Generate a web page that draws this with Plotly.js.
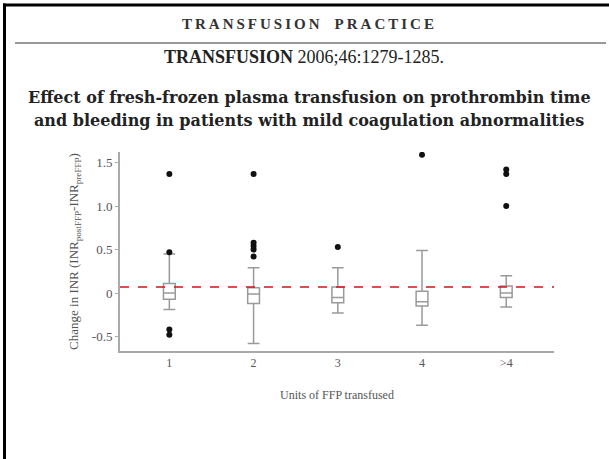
<!DOCTYPE html>
<html>
<head>
<meta charset="utf-8">
<script src="https://cdn.plot.ly/plotly-3.0.1.min.js"></script>
<style>html,body{margin:0;padding:0;background:#fff;}#chart{width:609px;height:459px;}</style>
</head>
<body>
<div id="chart"></div>
<script>
// Categories (units of FFP transfused)
const categories = ["1", "2", "3", "4", ">4"];
// Box statistics per category (change in INR)
const q1Values     = [-0.07, -0.12, -0.11, -0.15, -0.05];
const medianValues = [0.00, -0.01, -0.05, -0.10, 0.00];
const q3Values     = [0.11, 0.06, 0.07, 0.02, 0.08];
const lowerWhisker = [-0.19, -0.58, -0.23, -0.37, -0.16];
const upperWhisker = [0.45, 0.29, 0.29, 0.49, 0.20];
// Outliers
const outlierCats   = ["1", "1", "1", "1", "2", "2", "2", "2", "2", "3", "4", ">4", ">4", ">4"];
const outlierValues = [1.37, 0.47, -0.42, -0.48, 1.37, 0.58, 0.54, 0.50, 0.42, 0.53, 1.59, 1.42, 1.37, 1.00];
// Reference line
const refLineValue = 0.07;
const yTickVals = [-0.5, 0, 0.5, 1.0, 1.5];
const yTickText = ["-0.5", "0", "0.5", "1.0", "1.5"];

const W = 609, H = 459;
const L = 120, R = 554, T = 152, B = 351;
const px = x => (x - L) / (R - L);
const py = y => (B - y) / (B - T);

const serif = "Liberation Serif, Times New Roman, serif";
const th = "\u2009";
const spaced = s => s.split("").join(th);

const boxTrace = {
  type: "box",
  x: categories,
  q1: q1Values,
  median: medianValues,
  q3: q3Values,
  lowerfence: lowerWhisker,
  upperfence: upperWhisker,
  width: 0.14,
  whiskerwidth: 1,
  fillcolor: "#ffffff",
  line: {color: "#9a9a9a", width: 1.5},
  boxpoints: false,
  hoverinfo: "skip",
  showlegend: false
};

const outlierTrace = {
  type: "scatter",
  mode: "markers",
  x: outlierCats,
  y: outlierValues,
  marker: {color: "#111111", size: 6},
  showlegend: false,
  hoverinfo: "skip"
};

const layout = {
  width: W, height: H,
  margin: {l: L, r: W - R, t: T, b: H - B, pad: 0},
  paper_bgcolor: "#ffffff",
  plot_bgcolor: "#ffffff",
  showlegend: false,
  font: {family: serif, color: "#555555", size: 12},
  xaxis: {
    type: "category",
    categoryorder: "array",
    categoryarray: categories,
    range: [-0.586, 4.567],
    showline: true, linecolor: "#aaaaaa", linewidth: 2,
    showgrid: false, zeroline: false,
    ticks: "", ticklen: 0,
    tickfont: {family: serif, size: 12, color: "#555555"},
    title: {text: "Units of FFP transfused", font: {family: serif, size: 12, color: "#555555"}, standoff: 21}
  },
  yaxis: {
    range: [-0.666, 1.622],
    showline: true, linecolor: "#aaaaaa", linewidth: 2,
    showgrid: false, zeroline: false,
    ticks: "outside", ticklen: 3, tickcolor: "#aaaaaa", tickwidth: 1,
    tickvals: yTickVals, ticktext: yTickText,
    tickfont: {family: serif, size: 13, color: "#555555"},
    title: {text: "Change in INR (INR<sub>postFFP</sub>-INR<sub>preFFP</sub>)", font: {family: serif, size: 13, color: "#555555"}, standoff: 10}
  },
  shapes: [
    // reference dashed line
    {type: "line", xref: "paper", yref: "y", x0: 0, x1: 1, y0: refLineValue, y1: refLineValue,
     line: {color: "#dd1111", width: 1.5, dash: "dash"}},
    // outer frame (left + top)
    {type: "line", xref: "paper", yref: "paper", x0: px(4.5), x1: px(4.5), y0: py(3.5), y1: py(470),
     line: {color: "#000000", width: 3}},
    {type: "line", xref: "paper", yref: "paper", x0: px(3), x1: px(612), y0: py(5), y1: py(5),
     line: {color: "#000000", width: 3}},
    // header rule
    {type: "line", xref: "paper", yref: "paper", x0: px(15), x1: px(606), y0: py(43), y1: py(43),
     line: {color: "#999999", width: 2}}
  ],
  annotations: [
    {xref: "paper", yref: "paper", x: px(308), y: py(24), xanchor: "center", yanchor: "middle", showarrow: false,
     text: "<b>" + spaced("TRANSFUSION") + "\u2003" + spaced("PRACTICE") + "</b>",
     font: {family: serif, size: 15, color: "#333333"}},
    {xref: "paper", yref: "paper", x: px(304), y: py(57), xanchor: "center", yanchor: "middle", showarrow: false,
     text: "<b>TRANSFUSION</b> 2006;46:1279-1285.",
     font: {family: serif, size: 18, color: "#222222"}},
    {xref: "paper", yref: "paper", x: px(309), y: py(98), xanchor: "center", yanchor: "middle", showarrow: false,
     text: "<b>Effect of fresh-frozen plasma transfusion on prothrombin time</b>",
     font: {family: "DejaVu Serif, serif", size: 16, color: "#222222"}},
    {xref: "paper", yref: "paper", x: px(309), y: py(120), xanchor: "center", yanchor: "middle", showarrow: false,
     text: "<b>and bleeding in patients with mild coagulation abnormalities</b>",
     font: {family: "DejaVu Serif, serif", size: 16, color: "#222222"}}
  ]
};

Plotly.newPlot("chart", [boxTrace, outlierTrace], layout, {displayModeBar: false, staticPlot: true});
</script>
</body>
</html>
